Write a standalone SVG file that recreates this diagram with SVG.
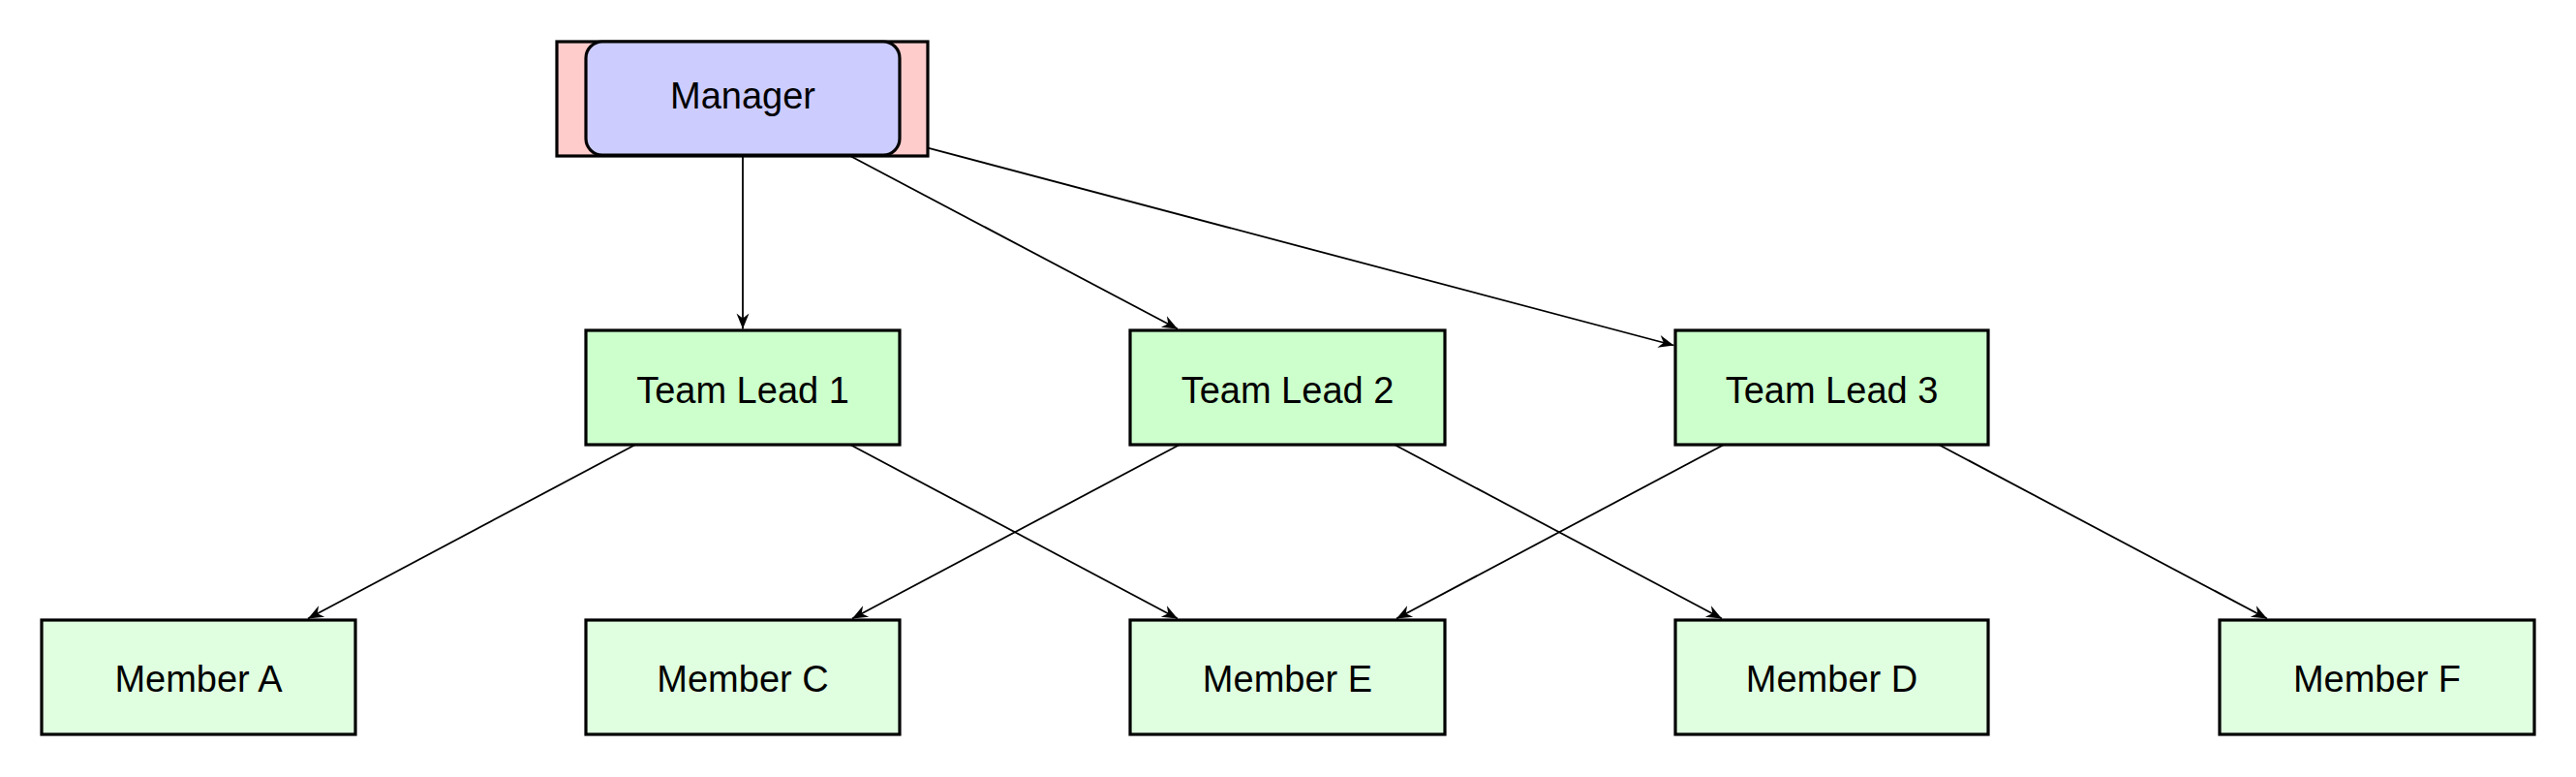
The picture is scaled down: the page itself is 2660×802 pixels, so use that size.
<svg xmlns="http://www.w3.org/2000/svg" width="2660" height="802" viewBox="0 0 2660 802">
<defs>
<style>
.box{stroke:#000;stroke-width:3.2}
.mgr-outer{fill:#FFCCCC}
.mgr-inner{fill:#CCCCFF}
.lead{fill:#CCFFCC}
.member{fill:#E0FFE0}
.lbl{font-family:"Liberation Sans",Arial,sans-serif;font-size:38px;fill:#000;text-anchor:middle}
.edge{stroke:#000;stroke-width:1.8;fill:none;marker-end:url(#arr)}
</style>
<marker id="arr" viewBox="-17 -7 18 14" refX="0" refY="0" markerWidth="18" markerHeight="14" markerUnits="userSpaceOnUse" orient="auto">
<path d="M0,0 L-16,-6.5 L-11,0 L-16,6.5 Z" fill="#000"/>
</marker>
</defs>
<rect width="2660" height="802" fill="#fff"/>
<g id="connectors">
<line class="edge" x1="767" y1="161" x2="767" y2="339.5"/>
<line class="edge" x1="878" y1="161" x2="1216" y2="339.5"/>
<line class="edge" x1="958" y1="152.6" x2="1728.5" y2="356.5"/>
<line class="edge" x1="656" y1="459" x2="318" y2="638.5"/>
<line class="edge" x1="878" y1="459" x2="1216" y2="638.5"/>
<line class="edge" x1="1218" y1="459" x2="880" y2="638.5"/>
<line class="edge" x1="1440" y1="459" x2="1778" y2="638.5"/>
<line class="edge" x1="1780" y1="459" x2="1442" y2="638.5"/>
<line class="edge" x1="2002" y1="459" x2="2341" y2="638.5"/>
</g>
<g id="manager">
<rect class="box mgr-outer" x="575" y="43" width="383" height="118"/>
<rect class="box mgr-inner" x="605" y="43" width="324" height="117" rx="17" ry="17"/>
<text class="lbl" x="767" y="112">Manager</text>
</g>
<g id="lead1">
<rect class="box lead" x="605" y="341" width="324" height="118"/>
<text class="lbl" x="767" y="416">Team Lead 1</text>
</g>
<g id="lead2">
<rect class="box lead" x="1167" y="341" width="325" height="118"/>
<text class="lbl" x="1329.5" y="416">Team Lead 2</text>
</g>
<g id="lead3">
<rect class="box lead" x="1730" y="341" width="323" height="118"/>
<text class="lbl" x="1891.5" y="416">Team Lead 3</text>
</g>
<g id="memberA">
<rect class="box member" x="43" y="640" width="324" height="118"/>
<text class="lbl" x="205" y="714">Member A</text>
</g>
<g id="memberC">
<rect class="box member" x="605" y="640" width="324" height="118"/>
<text class="lbl" x="767" y="714">Member C</text>
</g>
<g id="memberE">
<rect class="box member" x="1167" y="640" width="325" height="118"/>
<text class="lbl" x="1329.5" y="714">Member E</text>
</g>
<g id="memberD">
<rect class="box member" x="1730" y="640" width="323" height="118"/>
<text class="lbl" x="1891.5" y="714">Member D</text>
</g>
<g id="memberF">
<rect class="box member" x="2292" y="640" width="325" height="118"/>
<text class="lbl" x="2454.5" y="714">Member F</text>
</g>
</svg>
